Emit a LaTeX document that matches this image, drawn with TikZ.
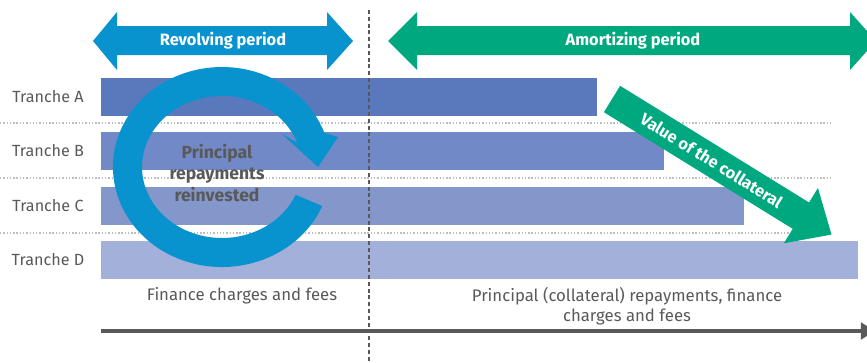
\documentclass[tikz,border=0pt]{standalone}
\usepackage{fontspec}
\setmainfont{Fira Sans}
\usetikzlibrary{positioning, arrows.meta}
\definecolor{revblue}{HTML}{0893CF}
\definecolor{amgreen}{HTML}{00A880}
\definecolor{trA}{HTML}{5A79BD}
\definecolor{trB}{HTML}{7189C6}
\definecolor{trC}{HTML}{8497CB}
\definecolor{trD}{HTML}{A3B1DA}
\definecolor{txtgray}{HTML}{595959}
\definecolor{sepgray}{HTML}{BDBDBD}

\begin{document}
\begin{tikzpicture}[x=0.03cm, y=0.03cm,
    tranche/.style={font=\fontsize{13.8}{15}\selectfont, text=txtgray},
    periodlbl/.style={font=\fontsize{14}{15}\selectfont\bfseries, text=white},
    footlbl/.style={font=\fontsize{14.3}{17}\selectfont, text=txtgray, align=center},
    sepline/.style={sepgray, line width=1.3pt, dash pattern=on 1.2pt off 1.6pt},
    divider/.style={txtgray, line width=1.2pt, dash pattern=on 3.4pt off 2.4pt}]
\useasboundingbox (0,0) rectangle (867,-362);
\clip (0,0) rectangle (867,-362);

% row separators
\foreach \y in {123,178,233}
    \draw[sepline] (0,-\y) -- (830,-\y);

% tranches
\foreach \t/\c/\xe/\yt in {A/trA/597/78, B/trB/664/132, C/trC/744/187, D/trD/858/241} {
    \fill[\c] (101,-\yt) rectangle (\xe,-\yt-38);
    \node[tranche] (lbl\t) at (48,-\yt-19) {Tranche \t};
}

% period boundary
\coordinate (divtop) at (369,-10);
\coordinate (divbot) at (369,-362);
\draw[divider] (divtop) -- (divbot);

% period arrows
\fill[revblue] (93,-41) -- (117,-12) -- (117,-26) -- (327,-26) -- (327,-12) -- (353,-41)
    -- (327,-70) -- (327,-55) -- (117,-55) -- (117,-70) -- cycle;
\node[periodlbl] (revolving) at (223,-41) {Revolving period};
\fill[amgreen] (388,-41) -- (417,-12) -- (417,-26) -- (850,-26) -- (850,-12) -- (876,-41)
    -- (850,-70) -- (850,-55) -- (417,-55) -- (417,-70) -- cycle;
\node[periodlbl] (amortizing) at (633,-41) {Amortizing period};

% reinvestment loop
\fill[revblue] (322.3,-206.1) arc[start angle=-23, end angle=-340, x radius=109, y radius=100]
    -- (338,-137) -- (318,-167) -- (282,-134) -- (297.2,-142.7)
    arc[start angle=20, end angle=337, x radius=80, y radius=71] -- cycle;
\node[font=\fontsize{15}{18}\selectfont\bfseries, text=txtgray, align=center] (reinv) at (217,-173)
    {Principal\\repayments\\reinvested};

% collateral value
\begin{scope}[shift={(612,-99)}, rotate=-31.7]
    \fill[amgreen] (0,15.5) -- (222,15.5) -- (222,32.5) -- (258,0) -- (222,-32.5)
        -- (222,-15.5) -- (0,-15.5) -- cycle;
    \node[periodlbl, rotate=-31.7] (collateral) at (117,0) {Value of the collateral};
\end{scope}

% cash flows
\node[footlbl] (revflow) at (242,-296) {Finance charges and fees};
\node[footlbl] (amflow) at (627,-306) {Principal (collateral) repayments, finance\\charges and fees};

% time axis
\coordinate (axstart) at (101,-331);
\coordinate (axend) at (875,-331);
\draw[txtgray, line width=3.4pt, -{Triangle[length=12pt, width=14pt]}] (axstart) -- (axend);
\end{tikzpicture}
\end{document}
